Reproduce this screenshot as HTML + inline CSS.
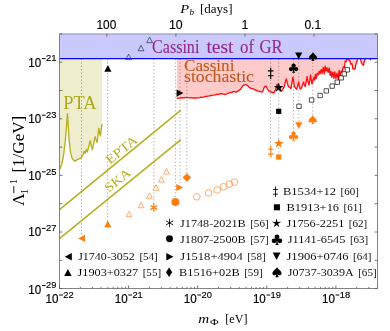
<!DOCTYPE html>
<html><head><meta charset="utf-8"><title>Pulsar constraints</title>
<style>
html,body{margin:0;padding:0;background:#fff;}
body{width:390px;height:331px;overflow:hidden;}
svg{display:block;will-change:transform;}
.sans{font-family:"Liberation Sans",sans-serif;}
.serif{font-family:"Liberation Serif",serif;}
</style></head><body>
<svg width="390" height="331" viewBox="0 0 390 331">
<rect x="0" y="0" width="390" height="331" fill="#fff"/>

<path d="M59.5,169.4 L61.5,165.0 L63.4,156.3 L65.3,140.8 L66.7,123.4 L67.5,113.6 L68.2,125.4 L69.2,140.8 L70.5,152.4 L71.9,157.8 L73.4,160.1 L75.0,161.1 L77.3,159.7 L79.6,158.6 L81.6,157.2 L83.1,154.3 L84.1,151.4 L85.0,153.4 L86.4,149.5 L87.3,152.0 L88.9,145.6 L90.2,140.8 L91.4,146.6 L92.4,149.5 L93.7,143.7 L95.1,136.6 L96.2,139.9 L97.2,142.4 L98.2,133.1 L98.9,128.3 L99.9,134.1 L100.5,136.0 L101.3,129.2 L102.1,123.8 L102.1,58.6 L59.5,58.6 Z" fill="#eeeecf"/>
<path d="M176.9,98.6 L177.9,98.3 L179.1,98.2 L180.4,98.2 L181.3,97.8 L182.7,97.7 L183.8,97.9 L185.0,97.6 L186.1,97.5 L187.1,97.6 L188.6,97.6 L189.9,97.8 L190.8,97.9 L192.1,97.7 L193.0,98.0 L194.2,98.0 L195.6,98.0 L197.1,97.8 L198.5,97.8 L199.9,97.7 L200.9,97.2 L201.9,97.4 L203.1,97.1 L204.1,96.8 L205.3,96.5 L206.5,96.3 L208.0,96.1 L209.4,95.9 L210.9,95.5 L211.9,95.4 L213.4,95.1 L214.6,94.8 L215.7,94.8 L216.9,94.1 L217.8,94.7 L219.3,93.9 L220.7,93.9 L221.7,93.6 L223.1,94.2 L224.0,94.1 L224.9,94.5 L226.0,94.3 L227.5,93.5 L229.0,92.8 L230.0,92.8 L230.9,92.3 L232.0,92.5 L233.0,91.6 L234.4,91.5 L235.9,92.3 L237.0,91.6 L238.3,90.9 L239.5,89.9 L240.8,89.1 L242.0,86.9 L243.3,85.1 L244.4,85.0 L245.6,84.5 L246.5,85.1 L247.8,85.7 L249.0,87.3 L250.0,87.9 L251.2,88.4 L252.3,88.9 L253.6,88.8 L254.5,89.8 L256.0,90.0 L257.2,90.8 L258.3,91.0 L259.4,91.4 L260.6,91.6 L261.8,92.2 L262.7,91.6 L264.0,87.8 L265.0,86.1 L266.1,86.1 L267.3,88.8 L268.2,90.1 L269.3,91.5 L270.5,92.0 L271.5,91.9 L272.8,92.8 L273.9,92.5 L274.0,92.8 L275.5,89.8 L277.1,84.1 L278.6,87.7 L280.2,91.3 L282.2,90.3 L284.3,86.7 L285.5,81.0 L286.3,79.0 L287.2,82.6 L288.4,86.7 L289.9,87.2 L291.0,88.7 L292.0,82.6 L292.8,77.4 L293.5,80.5 L294.4,86.7 L295.6,88.2 L296.8,89.2 L297.9,84.6 L298.5,82.0 L299.3,85.7 L300.2,89.2 L301.6,87.7 L302.8,84.1 L303.6,82.0 L304.5,85.1 L305.4,86.7 L306.4,80.5 L307.1,76.4 L307.9,81.5 L309.0,85.1 L309.8,80.5 L310.5,74.9 L311.2,79.5 L312.0,84.1 L313.1,79.5 L314.0,77.4 L314.5,80.2 L315.4,74.3 L316.2,78.6 L317.2,73.5 L318.2,74.9 L319.2,71.2 L320.0,74.1 L321.2,69.4 L322.1,73.5 L323.3,67.4 L324.3,73.9 L325.1,66.1 L326.1,71.1 L326.9,67.6 L328.1,72.3 L329.1,67.9 L330.1,75.4 L330.9,71.3 L331.8,77.4 L332.8,72.1 L333.9,78.4 L334.8,71.9 L335.9,78.6 L337.0,73.2 L338.2,79.2 L339.1,70.4 L340.0,76.4 L341.1,71.1 L342.1,72.5 L343.2,66.9 L344.3,68.0 L345.2,61.2 L346.3,61.5 L347.3,57.8 L348.5,60.1 L349.6,59.9 L350.7,64.1 L352.0,63.7 L352.9,68.9 L354.0,68.8 L355.0,69.3 L355.9,64.5 L357.0,61.3 L357.9,58.0 L359.1,58.2 L360.1,58.3 L361.3,62.4 L362.5,64.4 L363.5,65.4 L364.7,59.2 L365.6,58.8 L366.5,57.4 L367.5,57.8 L368.4,57.6 L369.4,57.9 L370.5,59.8 L371.4,57.8 L371.4,58.6 L176.9,58.6 Z" fill="#ffcaca"/>
<line x1="81.5" y1="59.0" x2="81.5" y2="237.6" stroke="#000" stroke-opacity="0.4" stroke-width="0.9" stroke-dasharray="1.15,2.27"/>
<line x1="107.6" y1="59.0" x2="107.6" y2="223.8" stroke="#000" stroke-opacity="0.4" stroke-width="0.9" stroke-dasharray="1.15,2.27"/>
<line x1="153.9" y1="59.0" x2="153.9" y2="207.6" stroke="#000" stroke-opacity="0.4" stroke-width="0.9" stroke-dasharray="1.15,2.27"/>
<line x1="175.6" y1="59.0" x2="175.6" y2="201.9" stroke="#000" stroke-opacity="0.4" stroke-width="0.9" stroke-dasharray="1.15,2.27"/>
<line x1="180.0" y1="59.0" x2="180.0" y2="187.5" stroke="#000" stroke-opacity="0.4" stroke-width="0.9" stroke-dasharray="1.15,2.27"/>
<line x1="186.9" y1="59.0" x2="186.9" y2="177.5" stroke="#000" stroke-opacity="0.4" stroke-width="0.9" stroke-dasharray="1.15,2.27"/>
<line x1="270.6" y1="59.0" x2="270.6" y2="151.7" stroke="#000" stroke-opacity="0.4" stroke-width="0.9" stroke-dasharray="1.15,2.27"/>
<line x1="278.7" y1="59.0" x2="278.7" y2="157.0" stroke="#000" stroke-opacity="0.4" stroke-width="0.9" stroke-dasharray="1.15,2.27"/>
<line x1="293.5" y1="59.0" x2="293.5" y2="136.2" stroke="#000" stroke-opacity="0.4" stroke-width="0.9" stroke-dasharray="1.15,2.27"/>
<line x1="298.8" y1="59.0" x2="298.8" y2="125.7" stroke="#000" stroke-opacity="0.4" stroke-width="0.9" stroke-dasharray="1.15,2.27"/>
<line x1="312.8" y1="59.0" x2="312.8" y2="119.7" stroke="#000" stroke-opacity="0.4" stroke-width="0.9" stroke-dasharray="1.15,2.27"/>
<path d="M59.5,169.4 L61.5,165.0 L63.4,156.3 L65.3,140.8 L66.7,123.4 L67.5,113.6 L68.2,125.4 L69.2,140.8 L70.5,152.4 L71.9,157.8 L73.4,160.1 L75.0,161.1 L77.3,159.7 L79.6,158.6 L81.6,157.2 L83.1,154.3 L84.1,151.4 L85.0,153.4 L86.4,149.5 L87.3,152.0 L88.9,145.6 L90.2,140.8 L91.4,146.6 L92.4,149.5 L93.7,143.7 L95.1,136.6 L96.2,139.9 L97.2,142.4 L98.2,133.1 L98.9,128.3 L99.9,134.1 L100.5,136.0 L101.3,129.2 L102.1,123.8" fill="none" stroke="#b5b01e" stroke-width="1.35" stroke-linejoin="round"/>
<path d="M176.9,98.6 L177.9,98.3 L179.1,98.2 L180.4,98.2 L181.3,97.8 L182.7,97.7 L183.8,97.9 L185.0,97.6 L186.1,97.5 L187.1,97.6 L188.6,97.6 L189.9,97.8 L190.8,97.9 L192.1,97.7 L193.0,98.0 L194.2,98.0 L195.6,98.0 L197.1,97.8 L198.5,97.8 L199.9,97.7 L200.9,97.2 L201.9,97.4 L203.1,97.1 L204.1,96.8 L205.3,96.5 L206.5,96.3 L208.0,96.1 L209.4,95.9 L210.9,95.5 L211.9,95.4 L213.4,95.1 L214.6,94.8 L215.7,94.8 L216.9,94.1 L217.8,94.7 L219.3,93.9 L220.7,93.9 L221.7,93.6 L223.1,94.2 L224.0,94.1 L224.9,94.5 L226.0,94.3 L227.5,93.5 L229.0,92.8 L230.0,92.8 L230.9,92.3 L232.0,92.5 L233.0,91.6 L234.4,91.5 L235.9,92.3 L237.0,91.6 L238.3,90.9 L239.5,89.9 L240.8,89.1 L242.0,86.9 L243.3,85.1 L244.4,85.0 L245.6,84.5 L246.5,85.1 L247.8,85.7 L249.0,87.3 L250.0,87.9 L251.2,88.4 L252.3,88.9 L253.6,88.8 L254.5,89.8 L256.0,90.0 L257.2,90.8 L258.3,91.0 L259.4,91.4 L260.6,91.6 L261.8,92.2 L262.7,91.6 L264.0,87.8 L265.0,86.1 L266.1,86.1 L267.3,88.8 L268.2,90.1 L269.3,91.5 L270.5,92.0 L271.5,91.9 L272.8,92.8 L273.9,92.5 L274.0,92.8 L275.5,89.8 L277.1,84.1 L278.6,87.7 L280.2,91.3 L282.2,90.3 L284.3,86.7 L285.5,81.0 L286.3,79.0 L287.2,82.6 L288.4,86.7 L289.9,87.2 L291.0,88.7 L292.0,82.6 L292.8,77.4 L293.5,80.5 L294.4,86.7 L295.6,88.2 L296.8,89.2 L297.9,84.6 L298.5,82.0 L299.3,85.7 L300.2,89.2 L301.6,87.7 L302.8,84.1 L303.6,82.0 L304.5,85.1 L305.4,86.7 L306.4,80.5 L307.1,76.4 L307.9,81.5 L309.0,85.1 L309.8,80.5 L310.5,74.9 L311.2,79.5 L312.0,84.1 L313.1,79.5 L314.0,77.4 L314.5,80.2 L315.4,74.3 L316.2,78.6 L317.2,73.5 L318.2,74.9 L319.2,71.2 L320.0,74.1 L321.2,69.4 L322.1,73.5 L323.3,67.4 L324.3,73.9 L325.1,66.1 L326.1,71.1 L326.9,67.6 L328.1,72.3 L329.1,67.9 L330.1,75.4 L330.9,71.3 L331.8,77.4 L332.8,72.1 L333.9,78.4 L334.8,71.9 L335.9,78.6 L337.0,73.2 L338.2,79.2 L339.1,70.4 L340.0,76.4 L341.1,71.1 L342.1,72.5 L343.2,66.9 L344.3,68.0 L345.2,61.2 L346.3,61.5 L347.3,57.8 L348.5,60.1 L349.6,59.9 L350.7,64.1 L352.0,63.7 L352.9,68.9 L354.0,68.8 L355.0,69.3 L355.9,64.5 L357.0,61.3 L357.9,58.0 L359.1,58.2 L360.1,58.3 L361.3,62.4 L362.5,64.4 L363.5,65.4 L364.7,59.2 L365.6,58.8 L366.5,57.4 L367.5,57.8 L368.4,57.6 L369.4,57.9 L370.5,59.8 L371.4,57.8" fill="none" stroke="#ff0d0d" stroke-width="1.3" stroke-linejoin="round"/>
<line x1="59.5" y1="209.6" x2="180.9" y2="110.2" stroke="#b5b01e" stroke-width="1.55"/>
<line x1="59.5" y1="238.7" x2="180.9" y2="139.6" stroke="#b5b01e" stroke-width="1.55"/>
<rect x="59.5" y="33.3" width="318.0" height="25.300000000000004" fill="#c9c9fb"/>
<line x1="59.5" y1="58.6" x2="377.5" y2="58.6" stroke="#0808f4" stroke-width="1.35"/>
<path d="M0,-2.75 L2.90,2.75 L-2.90,2.75 Z" transform="translate(129.0,214.0)" fill="#fff" stroke="#ff9548" stroke-width="0.8"/>
<path d="M0,-2.75 L2.90,2.75 L-2.90,2.75 Z" transform="translate(141.0,205.0)" fill="#fff" stroke="#ff9548" stroke-width="0.8"/>
<path d="M0,-2.75 L2.90,2.75 L-2.90,2.75 Z" transform="translate(149.6,195.5)" fill="#fff" stroke="#ff9548" stroke-width="0.8"/>
<path d="M0,-2.75 L2.90,2.75 L-2.90,2.75 Z" transform="translate(156.0,187.5)" fill="#fff" stroke="#ff9548" stroke-width="0.8"/>
<path d="M0,-2.75 L2.90,2.75 L-2.90,2.75 Z" transform="translate(161.4,179.3)" fill="#fff" stroke="#ff9548" stroke-width="0.8"/>
<path d="M0,-2.75 L2.90,2.75 L-2.90,2.75 Z" transform="translate(166.5,171.3)" fill="#fff" stroke="#ff9548" stroke-width="0.8"/>
<path d="M0,-2.75 L2.90,2.75 L-2.90,2.75 Z" transform="translate(128.6,56.9)" fill="none" stroke="#2a2a55" stroke-width="0.7"/>
<path d="M0,-2.75 L2.90,2.75 L-2.90,2.75 Z" transform="translate(141.0,48.0)" fill="none" stroke="#2a2a55" stroke-width="0.7"/>
<path d="M0,-2.75 L2.90,2.75 L-2.90,2.75 Z" transform="translate(149.6,39.9)" fill="none" stroke="#2a2a55" stroke-width="0.7"/>
<circle cx="196.8" cy="196.8" r="3.35" fill="none" stroke="#ff9548" stroke-width="0.8"/>
<circle cx="208.6" cy="193.0" r="3.35" fill="none" stroke="#ff9548" stroke-width="0.8"/>
<circle cx="217.1" cy="189.9" r="3.35" fill="none" stroke="#ff9548" stroke-width="0.8"/>
<circle cx="223.6" cy="186.8" r="3.35" fill="none" stroke="#ff9548" stroke-width="0.8"/>
<circle cx="229.4" cy="184.1" r="3.35" fill="none" stroke="#ff9548" stroke-width="0.8"/>
<circle cx="234.3" cy="182.1" r="3.35" fill="none" stroke="#ff9548" stroke-width="0.8"/>
<path d="M-2.2,-2.2 H2.2 V2.2 H-2.2 Z" transform="translate(299.0,106.3)" fill="#fff" stroke="#1a1a1a" stroke-width="0.75"/>
<path d="M-2.2,-2.2 H2.2 V2.2 H-2.2 Z" transform="translate(311.6,100.0)" fill="#fff" stroke="#1a1a1a" stroke-width="0.75"/>
<path d="M-2.2,-2.2 H2.2 V2.2 H-2.2 Z" transform="translate(320.1,95.5)" fill="#fff" stroke="#1a1a1a" stroke-width="0.75"/>
<path d="M-2.2,-2.2 H2.2 V2.2 H-2.2 Z" transform="translate(326.3,90.9)" fill="#fff" stroke="#1a1a1a" stroke-width="0.75"/>
<path d="M-2.2,-2.2 H2.2 V2.2 H-2.2 Z" transform="translate(332.2,86.1)" fill="#fff" stroke="#1a1a1a" stroke-width="0.75"/>
<path d="M-2.2,-2.2 H2.2 V2.2 H-2.2 Z" transform="translate(337.3,82.2)" fill="#fff" stroke="#1a1a1a" stroke-width="0.75"/>
<path d="M-2.2,-2.2 H2.2 V2.2 H-2.2 Z" transform="translate(341.2,77.8)" fill="#fff" stroke="#1a1a1a" stroke-width="0.75"/>
<path d="M-2.2,-2.2 H2.2 V2.2 H-2.2 Z" transform="translate(344.3,73.9)" fill="#fff" stroke="#1a1a1a" stroke-width="0.75"/>
<path d="M-2.2,-2.2 H2.2 V2.2 H-2.2 Z" transform="translate(347.4,69.8)" fill="#fff" stroke="#1a1a1a" stroke-width="0.75"/>
<path d="M0,-3.42 L3.60,3.42 L-3.60,3.42 Z" transform="translate(107.9,68.4)" fill="#000"/>
<path d="M3.42,0 L-3.42,-3.60 L-3.42,3.60 Z" transform="translate(180.0,93.1)" fill="#000"/>
<path d="M0,-5.6 V5.6 M-2.8,-2.4 H2.8 M-2.8,2.4 H2.8" transform="translate(270.7,73.3)" stroke="#000" stroke-width="1.10" fill="none"/>
<path d="M-2.6,-2.6 H2.6 V2.6 H-2.6 Z" transform="translate(278.7,111.3)" fill="#000"/>
<path d="M0.00,-5.00 L1.18,-1.62 L4.76,-1.55 L1.90,0.62 L2.94,4.05 L0.00,2.00 L-2.94,4.05 L-1.90,0.62 L-4.76,-1.55 L-1.18,-1.62 Z" transform="translate(278.7,87.6)" fill="#000"/>
<g transform="translate(293.6,68.2) scale(1.0)" fill="#000"><circle cx="0" cy="-2.5" r="2.15"/><circle cx="-2.55" cy="0.9" r="2.15"/><circle cx="2.55" cy="0.9" r="2.15"/><circle cx="0" cy="0" r="1.2"/><path d="M-0.5,0 L0.5,0 L0.7,3.4 L1.7,4.6 L-1.7,4.6 L-0.7,3.4 Z"/></g>
<path d="M0,3.42 L3.60,-3.42 L-3.60,-3.42 Z" transform="translate(298.7,55.8)" fill="#000"/>
<g transform="translate(313.0,56.7) scale(1.0)" fill="#000"><path d="M0,-4.4 C1.1,-2.5 4.1,-0.9 4.1,1.2 C4.1,3.0 1.7,3.4 0.45,1.9 L1.5,4.4 L-1.5,4.4 L-0.45,1.9 C-1.7,3.4 -4.1,3.0 -4.1,1.2 C-4.1,-0.9 -1.1,-2.5 0,-4.4 Z"/></g>
<path d="M-3.42,0 L3.42,-3.60 L3.42,3.60 Z" transform="translate(81.6,238.4)" fill="#ff7f0e"/>
<path d="M0,-3.42 L3.60,3.42 L-3.60,3.42 Z" transform="translate(107.8,223.8)" fill="#ff7f0e"/>
<path d="M-0.00,-4.10 L0.00,4.10 M3.55,-2.05 L-3.55,2.05 M3.55,2.05 L-3.55,-2.05" transform="translate(153.8,207.6)" stroke="#ff7f0e" stroke-width="1.25" fill="none"/>
<circle cx="175.4" cy="201.9" r="4.00" fill="#ff7f0e"/>
<path d="M3.42,0 L-3.42,-3.60 L-3.42,3.60 Z" transform="translate(179.7,187.5)" fill="#ff7f0e"/>
<path d="M0,-4.3 L4.3,0 L0,4.3 L-4.3,0 Z" transform="translate(186.9,177.6)" fill="#ff7f0e"/>
<path d="M0,-5.6 V5.6 M-2.8,-2.4 H2.8 M-2.8,2.4 H2.8" transform="translate(270.8,151.7)" stroke="#ff7f0e" stroke-width="1.10" fill="none"/>
<path d="M-2.6,-2.6 H2.6 V2.6 H-2.6 Z" transform="translate(278.7,157.0)" fill="#ff7f0e"/>
<path d="M0.00,-5.00 L1.18,-1.62 L4.76,-1.55 L1.90,0.62 L2.94,4.05 L0.00,2.00 L-2.94,4.05 L-1.90,0.62 L-4.76,-1.55 L-1.18,-1.62 Z" transform="translate(278.8,143.6)" fill="#ff7f0e"/>
<g transform="translate(293.5,136.2) scale(1.0)" fill="#ff7f0e"><circle cx="0" cy="-2.5" r="2.15"/><circle cx="-2.55" cy="0.9" r="2.15"/><circle cx="2.55" cy="0.9" r="2.15"/><circle cx="0" cy="0" r="1.2"/><path d="M-0.5,0 L0.5,0 L0.7,3.4 L1.7,4.6 L-1.7,4.6 L-0.7,3.4 Z"/></g>
<path d="M0,3.42 L3.60,-3.42 L-3.60,-3.42 Z" transform="translate(298.8,125.7)" fill="#ff7f0e"/>
<g transform="translate(312.7,119.7) scale(1.0)" fill="#ff7f0e"><path d="M0,-4.4 C1.1,-2.5 4.1,-0.9 4.1,1.2 C4.1,3.0 1.7,3.4 0.45,1.9 L1.5,4.4 L-1.5,4.4 L-0.45,1.9 C-1.7,3.4 -4.1,3.0 -4.1,1.2 C-4.1,-0.9 -1.1,-2.5 0,-4.4 Z"/></g>
<path d="M59.5,33.9 V288.5 H377.5 V33.9" fill="none" stroke="#6e6e6e" stroke-width="0.85"/>
<line x1="59.5" y1="34.1" x2="377.5" y2="34.1" stroke="#a6a6d4" stroke-width="1.3"/>
<path d="M59.50,288.5 v-3.0 M80.30,288.5 v-1.6 M92.47,288.5 v-1.6 M101.10,288.5 v-1.6 M107.80,288.5 v-1.6 M113.27,288.5 v-1.6 M117.90,288.5 v-1.6 M121.90,288.5 v-1.6 M125.44,288.5 v-1.6 M128.60,288.5 v-3.0 M149.40,288.5 v-1.6 M161.57,288.5 v-1.6 M170.20,288.5 v-1.6 M176.90,288.5 v-1.6 M182.37,288.5 v-1.6 M187.00,288.5 v-1.6 M191.00,288.5 v-1.6 M194.54,288.5 v-1.6 M197.70,288.5 v-3.0 M218.50,288.5 v-1.6 M230.67,288.5 v-1.6 M239.30,288.5 v-1.6 M246.00,288.5 v-1.6 M251.47,288.5 v-1.6 M256.10,288.5 v-1.6 M260.10,288.5 v-1.6 M263.64,288.5 v-1.6 M266.80,288.5 v-3.0 M287.60,288.5 v-1.6 M299.77,288.5 v-1.6 M308.40,288.5 v-1.6 M315.10,288.5 v-1.6 M320.57,288.5 v-1.6 M325.20,288.5 v-1.6 M329.20,288.5 v-1.6 M332.74,288.5 v-1.6 M335.90,288.5 v-3.0 M356.70,288.5 v-1.6 M368.87,288.5 v-1.6 M377.50,288.5 v-1.6 M314.10,33.9 v2.6 M245.00,33.9 v2.6 M175.90,33.9 v2.6 M106.80,33.9 v2.6 M59.5,288.60 h2.8 M377.5,288.60 h-2.8 M59.5,260.30 h2.8 M377.5,260.30 h-2.8 M59.5,232.00 h2.8 M377.5,232.00 h-2.8 M59.5,203.70 h2.8 M377.5,203.70 h-2.8 M59.5,175.40 h2.8 M377.5,175.40 h-2.8 M59.5,147.10 h2.8 M377.5,147.10 h-2.8 M59.5,118.80 h2.8 M377.5,118.80 h-2.8 M59.5,90.50 h2.8 M377.5,90.50 h-2.8 M59.5,62.20 h2.8 M377.5,62.20 h-2.8 M59.5,33.90 h2.8 M377.5,33.90 h-2.8" stroke="#5c5c5c" stroke-width="0.85" fill="none"/>
<text class="sans" x="28.3" y="66.6" font-size="12.6" fill="#000" stroke="#000" stroke-width="0.18" textLength="12.9" lengthAdjust="spacingAndGlyphs">10</text><line x1="41.9" y1="58.6" x2="45.6" y2="58.6" stroke="#000" stroke-width="1"/><text class="sans" x="46.0" y="61.4" font-size="9.5" fill="#000" stroke="#000" stroke-width="0.15" textLength="10.4" lengthAdjust="spacingAndGlyphs">21</text>
<text class="sans" x="28.3" y="123.2" font-size="12.6" fill="#000" stroke="#000" stroke-width="0.18" textLength="12.9" lengthAdjust="spacingAndGlyphs">10</text><line x1="41.9" y1="115.2" x2="45.6" y2="115.2" stroke="#000" stroke-width="1"/><text class="sans" x="46.0" y="118.0" font-size="9.5" fill="#000" stroke="#000" stroke-width="0.15" textLength="10.4" lengthAdjust="spacingAndGlyphs">23</text>
<text class="sans" x="28.3" y="179.8" font-size="12.6" fill="#000" stroke="#000" stroke-width="0.18" textLength="12.9" lengthAdjust="spacingAndGlyphs">10</text><line x1="41.9" y1="171.8" x2="45.6" y2="171.8" stroke="#000" stroke-width="1"/><text class="sans" x="46.0" y="174.6" font-size="9.5" fill="#000" stroke="#000" stroke-width="0.15" textLength="10.4" lengthAdjust="spacingAndGlyphs">25</text>
<text class="sans" x="28.3" y="236.4" font-size="12.6" fill="#000" stroke="#000" stroke-width="0.18" textLength="12.9" lengthAdjust="spacingAndGlyphs">10</text><line x1="41.9" y1="228.4" x2="45.6" y2="228.4" stroke="#000" stroke-width="1"/><text class="sans" x="46.0" y="231.2" font-size="9.5" fill="#000" stroke="#000" stroke-width="0.15" textLength="10.4" lengthAdjust="spacingAndGlyphs">27</text>
<text class="sans" x="28.3" y="293.5" font-size="12.6" fill="#000" stroke="#000" stroke-width="0.18" textLength="12.9" lengthAdjust="spacingAndGlyphs">10</text><line x1="41.9" y1="285.5" x2="45.6" y2="285.5" stroke="#000" stroke-width="1"/><text class="sans" x="46.0" y="288.3" font-size="9.5" fill="#000" stroke="#000" stroke-width="0.15" textLength="10.4" lengthAdjust="spacingAndGlyphs">29</text>
<text class="sans" x="45.6" y="303.0" font-size="12.6" fill="#000" stroke="#000" stroke-width="0.18" textLength="12.9" lengthAdjust="spacingAndGlyphs">10</text><line x1="59.2" y1="295.0" x2="62.9" y2="295.0" stroke="#000" stroke-width="1"/><text class="sans" x="63.3" y="297.8" font-size="9.5" fill="#000" stroke="#000" stroke-width="0.15" textLength="10.4" lengthAdjust="spacingAndGlyphs">22</text>
<text class="sans" x="114.7" y="303.0" font-size="12.6" fill="#000" stroke="#000" stroke-width="0.18" textLength="12.9" lengthAdjust="spacingAndGlyphs">10</text><line x1="128.3" y1="295.0" x2="132.0" y2="295.0" stroke="#000" stroke-width="1"/><text class="sans" x="132.4" y="297.8" font-size="9.5" fill="#000" stroke="#000" stroke-width="0.15" textLength="10.4" lengthAdjust="spacingAndGlyphs">21</text>
<text class="sans" x="183.8" y="303.0" font-size="12.6" fill="#000" stroke="#000" stroke-width="0.18" textLength="12.9" lengthAdjust="spacingAndGlyphs">10</text><line x1="197.4" y1="295.0" x2="201.1" y2="295.0" stroke="#000" stroke-width="1"/><text class="sans" x="201.5" y="297.8" font-size="9.5" fill="#000" stroke="#000" stroke-width="0.15" textLength="10.4" lengthAdjust="spacingAndGlyphs">20</text>
<text class="sans" x="252.9" y="303.0" font-size="12.6" fill="#000" stroke="#000" stroke-width="0.18" textLength="12.9" lengthAdjust="spacingAndGlyphs">10</text><line x1="266.5" y1="295.0" x2="270.2" y2="295.0" stroke="#000" stroke-width="1"/><text class="sans" x="270.6" y="297.8" font-size="9.5" fill="#000" stroke="#000" stroke-width="0.15" textLength="10.4" lengthAdjust="spacingAndGlyphs">19</text>
<text class="sans" x="322.0" y="303.0" font-size="12.6" fill="#000" stroke="#000" stroke-width="0.18" textLength="12.9" lengthAdjust="spacingAndGlyphs">10</text><line x1="335.6" y1="295.0" x2="339.3" y2="295.0" stroke="#000" stroke-width="1"/><text class="sans" x="339.7" y="297.8" font-size="9.5" fill="#000" stroke="#000" stroke-width="0.15" textLength="10.4" lengthAdjust="spacingAndGlyphs">18</text>
<text class="sans" x="96.5" y="29.3" font-size="13" fill="#000" stroke="#000" stroke-width="0.15" textLength="19.8" lengthAdjust="spacingAndGlyphs">100</text>
<text class="sans" x="169.0" y="29.3" font-size="13" fill="#000" stroke="#000" stroke-width="0.15" textLength="13.7" lengthAdjust="spacingAndGlyphs">10</text>
<text class="sans" x="241.6" y="29.3" font-size="13" fill="#000" stroke="#000" stroke-width="0.15" textLength="6.9" lengthAdjust="spacingAndGlyphs">1</text>
<text class="sans" x="304.4" y="29.3" font-size="13" fill="#000" stroke="#000" stroke-width="0.15" textLength="16.8" lengthAdjust="spacingAndGlyphs">0.1</text>
<text class="serif" x="180.3" y="13" font-size="12.8" font-style="italic" fill="#000" textLength="8.9" lengthAdjust="spacingAndGlyphs">P</text>
<text class="serif" x="189.6" y="15.3" font-size="9" font-style="italic" fill="#000">b</text>
<text class="serif" x="200" y="13" font-size="12.8" fill="#000" textLength="32.5" lengthAdjust="spacingAndGlyphs">[days]</text>
<text class="serif" x="198.3" y="323" font-size="13.5" font-style="italic" fill="#000" textLength="10.9" lengthAdjust="spacingAndGlyphs">m</text>
<text class="serif" x="210" y="324.8" font-size="8.4" fill="#000" textLength="8.7" lengthAdjust="spacingAndGlyphs">Φ</text>
<text class="serif" x="225.3" y="323" font-size="12.8" fill="#000" textLength="22.2" lengthAdjust="spacingAndGlyphs">[eV]</text>
<g transform="translate(24.4,204.5) rotate(-90)" class="serif" fill="#000"><text x="-1.5" y="0" font-size="17.6">Λ</text><text x="10.2" y="3.2" font-size="11">1</text><line x1="11.2" y1="-10.6" x2="18.4" y2="-10.6" stroke="#000" stroke-width="0.9"/><text x="20.3" y="-7.7" font-size="11">1</text><text x="31.9" y="0" font-size="17.4" textLength="56.8" lengthAdjust="spacingAndGlyphs">[1/GeV]</text></g>
<text class="serif" x="152.0" y="52.6" font-size="18" fill="#93278f" stroke="#93278f" stroke-width="0.08" textLength="47.4" lengthAdjust="spacingAndGlyphs">Cassini</text>
<text class="serif" x="206.4" y="52.6" font-size="18" fill="#93278f" stroke="#93278f" stroke-width="0.08" textLength="27.1" lengthAdjust="spacingAndGlyphs">test</text>
<text class="serif" x="240.1" y="52.6" font-size="18" fill="#93278f" stroke="#93278f" stroke-width="0.08" textLength="14.0" lengthAdjust="spacingAndGlyphs">of</text>
<text class="serif" x="259.6" y="52.6" font-size="18" fill="#93278f" stroke="#93278f" stroke-width="0.08" textLength="23.1" lengthAdjust="spacingAndGlyphs">GR</text>
<text class="serif" x="184.1" y="71.2" font-size="16.2" fill="#c1571c" stroke="#c1571c" stroke-width="0.08" textLength="50.3" lengthAdjust="spacingAndGlyphs">Cassini</text>
<text class="serif" x="184.0" y="82" font-size="16.2" fill="#c1571c" stroke="#c1571c" stroke-width="0.08" textLength="70" lengthAdjust="spacingAndGlyphs">stochastic</text>
<text class="serif" x="63.3" y="108.7" font-size="18" fill="#aca71d" textLength="33.2" lengthAdjust="spacingAndGlyphs">PTA</text>
<g transform="translate(121.6,149.9) rotate(-39)"><text class="serif" x="-18.3" y="4.2" font-size="13" fill="#b5b01e" textLength="36.6" lengthAdjust="spacingAndGlyphs">EPTA</text></g>
<g transform="translate(117.6,180.2) rotate(-39)"><text class="serif" x="-14.8" y="4.2" font-size="13" fill="#b5b01e" textLength="29.6" lengthAdjust="spacingAndGlyphs">SKA</text></g>
<path d="M-3.52,0 L3.52,-3.71 L3.52,3.71 Z" transform="translate(68.3,256.7)" fill="#000"/>
<text class="serif" x="78.2" y="259.9" font-size="10.8" fill="#000" stroke="#fff" stroke-width="0.04" textLength="56.7" lengthAdjust="spacingAndGlyphs">J1740-3052</text>
<text class="serif" x="139.4" y="259.9" font-size="10.8" fill="#000" stroke="#fff" stroke-width="0.04" textLength="18.4" lengthAdjust="spacingAndGlyphs">[54]</text>
<path d="M0,-3.52 L3.71,3.52 L-3.71,3.52 Z" transform="translate(67.9,272.5)" fill="#000"/>
<text class="serif" x="77.6" y="275.9" font-size="10.8" fill="#000" stroke="#fff" stroke-width="0.04" textLength="60.6" lengthAdjust="spacingAndGlyphs">J1903+0327</text>
<text class="serif" x="142.7" y="275.9" font-size="10.8" fill="#000" stroke="#fff" stroke-width="0.04" textLength="18.4" lengthAdjust="spacingAndGlyphs">[55]</text>
<path d="M-0.00,-3.92 L0.00,3.92 M3.39,-1.96 L-3.39,1.96 M3.39,1.96 L-3.39,-1.96" transform="translate(169.5,222.9)" stroke="#000" stroke-width="0.85" stroke-linecap="round" fill="none"/>
<text class="serif" x="180.1" y="226.7" font-size="10.8" fill="#000" stroke="#fff" stroke-width="0.04" textLength="65.6" lengthAdjust="spacingAndGlyphs">J1748-2021B</text>
<text class="serif" x="250.2" y="226.7" font-size="10.8" fill="#000" stroke="#fff" stroke-width="0.04" textLength="18.4" lengthAdjust="spacingAndGlyphs">[56]</text>
<circle cx="169.5" cy="238.8" r="3.44" fill="#000"/>
<text class="serif" x="180.1" y="242.9" font-size="10.8" fill="#000" stroke="#fff" stroke-width="0.04" textLength="65.6" lengthAdjust="spacingAndGlyphs">J1807-2500B</text>
<text class="serif" x="250.2" y="242.9" font-size="10.8" fill="#000" stroke="#fff" stroke-width="0.04" textLength="18.4" lengthAdjust="spacingAndGlyphs">[57]</text>
<path d="M3.59,0 L-3.59,-3.78 L-3.59,3.78 Z" transform="translate(169.9,256.7)" fill="#000"/>
<text class="serif" x="180.3" y="259.9" font-size="10.8" fill="#000" stroke="#fff" stroke-width="0.04" textLength="62.4" lengthAdjust="spacingAndGlyphs">J1518+4904</text>
<text class="serif" x="247.2" y="259.9" font-size="10.8" fill="#000" stroke="#fff" stroke-width="0.04" textLength="18.4" lengthAdjust="spacingAndGlyphs">[58]</text>
<path d="M0,-4.8 L3.1,0 L0,4.8 L-3.1,0 Z" transform="translate(169.1,272.2) scale(1.0)" fill="#000"/>
<text class="serif" x="179.0" y="275.9" font-size="10.8" fill="#000" stroke="#fff" stroke-width="0.04" textLength="60.7" lengthAdjust="spacingAndGlyphs">B1516+02B</text>
<text class="serif" x="244.2" y="275.9" font-size="10.8" fill="#000" stroke="#fff" stroke-width="0.04" textLength="18.4" lengthAdjust="spacingAndGlyphs">[59]</text>
<path d="M0,-5.3 V5.3 M-2.5,-2.3 H2.5 M-2.5,2.4 H2.5" transform="translate(275.5,191.8)" stroke="#000" stroke-width="0.85" fill="none"/>
<text class="serif" x="283.0" y="194.9" font-size="10.8" fill="#000" stroke="#fff" stroke-width="0.04" textLength="53.0" lengthAdjust="spacingAndGlyphs">B1534+12</text>
<text class="serif" x="340.5" y="194.9" font-size="10.8" fill="#000" stroke="#fff" stroke-width="0.04" textLength="18.4" lengthAdjust="spacingAndGlyphs">[60]</text>
<path d="M-3.042,-3.042 H3.042 V3.042 H-3.042 Z" transform="translate(276.9,207.3)" fill="#000"/>
<text class="serif" x="286.4" y="211.0" font-size="10.8" fill="#000" stroke="#fff" stroke-width="0.04" textLength="52.7" lengthAdjust="spacingAndGlyphs">B1913+16</text>
<text class="serif" x="343.6" y="211.0" font-size="10.8" fill="#000" stroke="#fff" stroke-width="0.04" textLength="18.4" lengthAdjust="spacingAndGlyphs">[61]</text>
<path d="M0.00,-4.90 L0.95,-1.31 L4.66,-1.51 L1.54,0.50 L2.88,3.96 L0.00,1.62 L-2.88,3.96 L-1.54,0.50 L-4.66,-1.51 L-0.95,-1.31 Z" transform="translate(276.6,223.3)" fill="#000"/>
<text class="serif" x="286.5" y="226.8" font-size="10.8" fill="#000" stroke="#fff" stroke-width="0.04" textLength="57.8" lengthAdjust="spacingAndGlyphs">J1756-2251</text>
<text class="serif" x="348.8" y="226.8" font-size="10.8" fill="#000" stroke="#fff" stroke-width="0.04" textLength="18.4" lengthAdjust="spacingAndGlyphs">[62]</text>
<g transform="translate(277.0,239.8) scale(1.13)" fill="#000"><circle cx="0" cy="-2.5" r="2.15"/><circle cx="-2.55" cy="0.9" r="2.15"/><circle cx="2.55" cy="0.9" r="2.15"/><circle cx="0" cy="0" r="1.2"/><path d="M-0.5,0 L0.5,0 L0.7,3.4 L1.7,4.6 L-1.7,4.6 L-0.7,3.4 Z"/></g>
<text class="serif" x="287.8" y="243.0" font-size="10.8" fill="#000" stroke="#fff" stroke-width="0.04" textLength="57.6" lengthAdjust="spacingAndGlyphs">J1141-6545</text>
<text class="serif" x="349.9" y="243.0" font-size="10.8" fill="#000" stroke="#fff" stroke-width="0.04" textLength="18.4" lengthAdjust="spacingAndGlyphs">[63]</text>
<path d="M0,3.69 L3.89,-3.69 L-3.89,-3.69 Z" transform="translate(276.6,256.3)" fill="#000"/>
<text class="serif" x="286.5" y="259.9" font-size="10.8" fill="#000" stroke="#fff" stroke-width="0.04" textLength="62.0" lengthAdjust="spacingAndGlyphs">J1906+0746</text>
<text class="serif" x="353.0" y="259.9" font-size="10.8" fill="#000" stroke="#fff" stroke-width="0.04" textLength="18.4" lengthAdjust="spacingAndGlyphs">[64]</text>
<g transform="translate(277.0,272.2) scale(1.12)" fill="#000"><path d="M0,-4.4 C1.1,-2.5 4.1,-0.9 4.1,1.2 C4.1,3.0 1.7,3.4 0.45,1.9 L1.5,4.4 L-1.5,4.4 L-0.45,1.9 C-1.7,3.4 -4.1,3.0 -4.1,1.2 C-4.1,-0.9 -1.1,-2.5 0,-4.4 Z"/></g>
<text class="serif" x="287.8" y="275.9" font-size="10.8" fill="#000" stroke="#fff" stroke-width="0.04" textLength="65.9" lengthAdjust="spacingAndGlyphs">J0737-3039A</text>
<text class="serif" x="358.2" y="275.9" font-size="10.8" fill="#000" stroke="#fff" stroke-width="0.04" textLength="18.4" lengthAdjust="spacingAndGlyphs">[65]</text>
</svg></body></html>
